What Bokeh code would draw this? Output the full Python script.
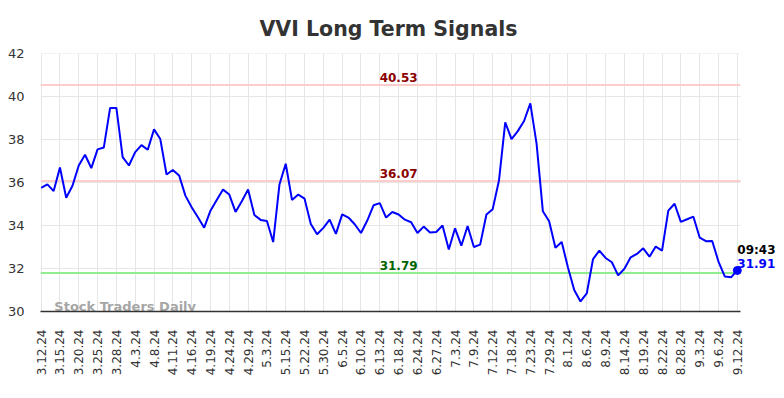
import math
from bokeh.plotting import figure
from bokeh.models import Range1d, FixedTicker, Label, ColumnDataSource, Title
from bokeh.core.properties import value
from bokeh.embed import file_html
from bokeh.resources import INLINE

tick_labels = ["3.12.24", "3.15.24", "3.20.24", "3.25.24", "3.28.24", "4.3.24", "4.8.24",
               "4.11.24", "4.16.24", "4.19.24", "4.24.24", "4.29.24", "5.3.24", "5.15.24",
               "5.22.24", "5.30.24", "6.5.24", "6.10.24", "6.13.24", "6.18.24", "6.24.24",
               "6.27.24", "7.3.24", "7.9.24", "7.12.24", "7.18.24", "7.23.24", "7.29.24",
               "8.1.24", "8.6.24", "8.9.24", "8.14.24", "8.19.24", "8.22.24", "8.28.24",
               "9.3.24", "9.6.24", "9.12.24"]

prices = [35.75, 35.91, 35.60, 36.70, 35.29, 35.85, 36.79, 37.29, 36.67, 37.54,
          37.63, 39.47, 39.47, 37.18, 36.79, 37.41, 37.74, 37.52, 38.47, 38.02,
          36.37, 36.58, 36.33, 35.39, 34.85, 34.38, 33.90, 34.69, 35.19, 35.67,
          35.44, 34.63, 35.13, 35.67, 34.49, 34.26, 34.21, 33.23, 35.91, 36.87,
          35.19, 35.44, 35.25, 34.07, 33.59, 33.89, 34.27, 33.61, 34.52, 34.37,
          34.06, 33.65, 34.23, 34.94, 35.04, 34.37, 34.63, 34.51, 34.27, 34.15,
          33.65, 33.95, 33.67, 33.70, 34.00, 32.88, 33.87, 33.06, 33.98, 33.00,
          33.11, 34.51, 34.76, 36.09, 38.80, 38.02, 38.39, 38.86, 39.68, 37.80,
          34.66, 34.20, 32.97, 33.23, 32.05, 31.00, 30.47, 30.84, 32.44, 32.83,
          32.49, 32.29, 31.68, 31.99, 32.52, 32.68, 32.94, 32.55, 33.02, 32.83,
          34.69, 35.01, 34.17, 34.29, 34.41, 33.44, 33.27, 33.28, 32.32, 31.63,
          31.59, 31.91]

y_ticks = [30, 32, 34, 36, 38, 40, 42]
upper_level = 40.53
middle_level = 36.07
lower_level = 31.79
last_time = "09:43"
last_price = 31.91

xs = list(range(len(prices)))
tick_pos = list(range(0, len(prices), 3))

# plot area spans x_start..x_end; extra room on the right holds the last-price note
x_start = -0.1
x_end = len(prices) - 0.5
x_view_end = x_end + 5.75

p = figure(width=784, height=398, output_backend="svg", toolbar_location=None,
           x_range=Range1d(x_start, x_view_end), y_range=Range1d(y_ticks[0], y_ticks[-1]),
           min_border_left=40, min_border_right=8, min_border_top=53, min_border_bottom=87)
p.outline_line_color = None
p.background_fill_color = "white"

p.title = Title(text="VVI Long Term Signals", align="left", text_font="DejaVu Sans",
                text_font_size="20.5px", text_font_style="bold", text_color="#333333",
                text_line_height=1.0, standoff=26, offset=219)

# axes
p.yaxis.ticker = FixedTicker(ticks=y_ticks)
p.yaxis.axis_line_color = None
p.yaxis.major_tick_line_color = None
p.yaxis.minor_tick_line_color = None
p.yaxis.major_tick_out = 0
p.yaxis.major_label_standoff = 16
p.yaxis.major_label_text_font = "DejaVu Sans"
p.yaxis.major_label_text_font_size = "13px"
p.yaxis.major_label_text_color = "#333333"

p.xaxis.ticker = FixedTicker(ticks=tick_pos)
p.xaxis.bounds = (x_start, x_end)
p.xaxis.major_label_overrides = {i: lab for i, lab in zip(tick_pos, tick_labels)}
p.xaxis.major_label_orientation = math.pi / 2
p.xaxis.axis_line_color = "#333333"
p.xaxis.axis_line_width = 1.5
p.xaxis.major_tick_line_color = None
p.xaxis.minor_tick_line_color = None
p.xaxis.major_tick_out = 0
p.xaxis.major_label_standoff = 18
p.xaxis.major_label_text_font = "DejaVu Sans"
p.xaxis.major_label_text_font_size = "12px"
p.xaxis.major_label_text_color = "#333333"

p.xgrid.grid_line_color = "#e6e6e6"
p.xgrid.grid_line_width = 1
p.ygrid.grid_line_color = None

# horizontal grid lines limited to the plot area
p.segment(x0=[x_start] * len(y_ticks), x1=[x_end] * len(y_ticks), y0=y_ticks, y1=y_ticks,
          line_color="#e6e6e6", line_width=1)

# watermark
p.text(x=[2.1], y=[y_ticks[0]], text=["Stock Traders Daily"], text_align="left",
       text_baseline="alphabetic", y_offset=-5, text_font=value("DejaVu Sans"),
       text_font_size="13px", text_font_style="bold", text_color="#a6a6a6")

# level lines
levels = [upper_level, middle_level, lower_level]
level_line_colors = ["#ffcccc", "#ffcccc", "#90ee90"]
level_text_colors = ["#8b0000", "#8b0000", "#006400"]
p.segment(x0=[x_start] * 3, x1=[x_end] * 3, y0=levels, y1=levels,
          line_color=level_line_colors, line_width=2)

src = ColumnDataSource(dict(x=xs, y=prices))
p.line("x", "y", source=src, line_color="#0000ff", line_width=2)
p.scatter([xs[-1]], [last_price], size=8, color="#0000ff")

mid_x = 57
for lvl, col in zip(levels, level_text_colors):
    p.add_layout(Label(x=mid_x, y=lvl, text=f"{lvl:.2f}", text_align="center",
                       text_baseline="bottom", y_offset=3, text_font="DejaVu Sans",
                       text_font_size="12px", text_font_style="bold", text_color=col))

p.add_layout(Label(x=xs[-1], y=last_price, text=last_time, text_align="left",
                   text_baseline="alphabetic", y_offset=20, text_font="DejaVu Sans",
                   text_font_size="12px", text_font_style="bold", text_color="#000000"))
p.add_layout(Label(x=xs[-1], y=last_price, text=f"{last_price:.2f}", text_align="left",
                   text_baseline="alphabetic", y_offset=7, text_font="DejaVu Sans",
                   text_font_size="12px", text_font_style="bold", text_color="#0000ff"))

open("out.html", "w").write(file_html(p, INLINE))
